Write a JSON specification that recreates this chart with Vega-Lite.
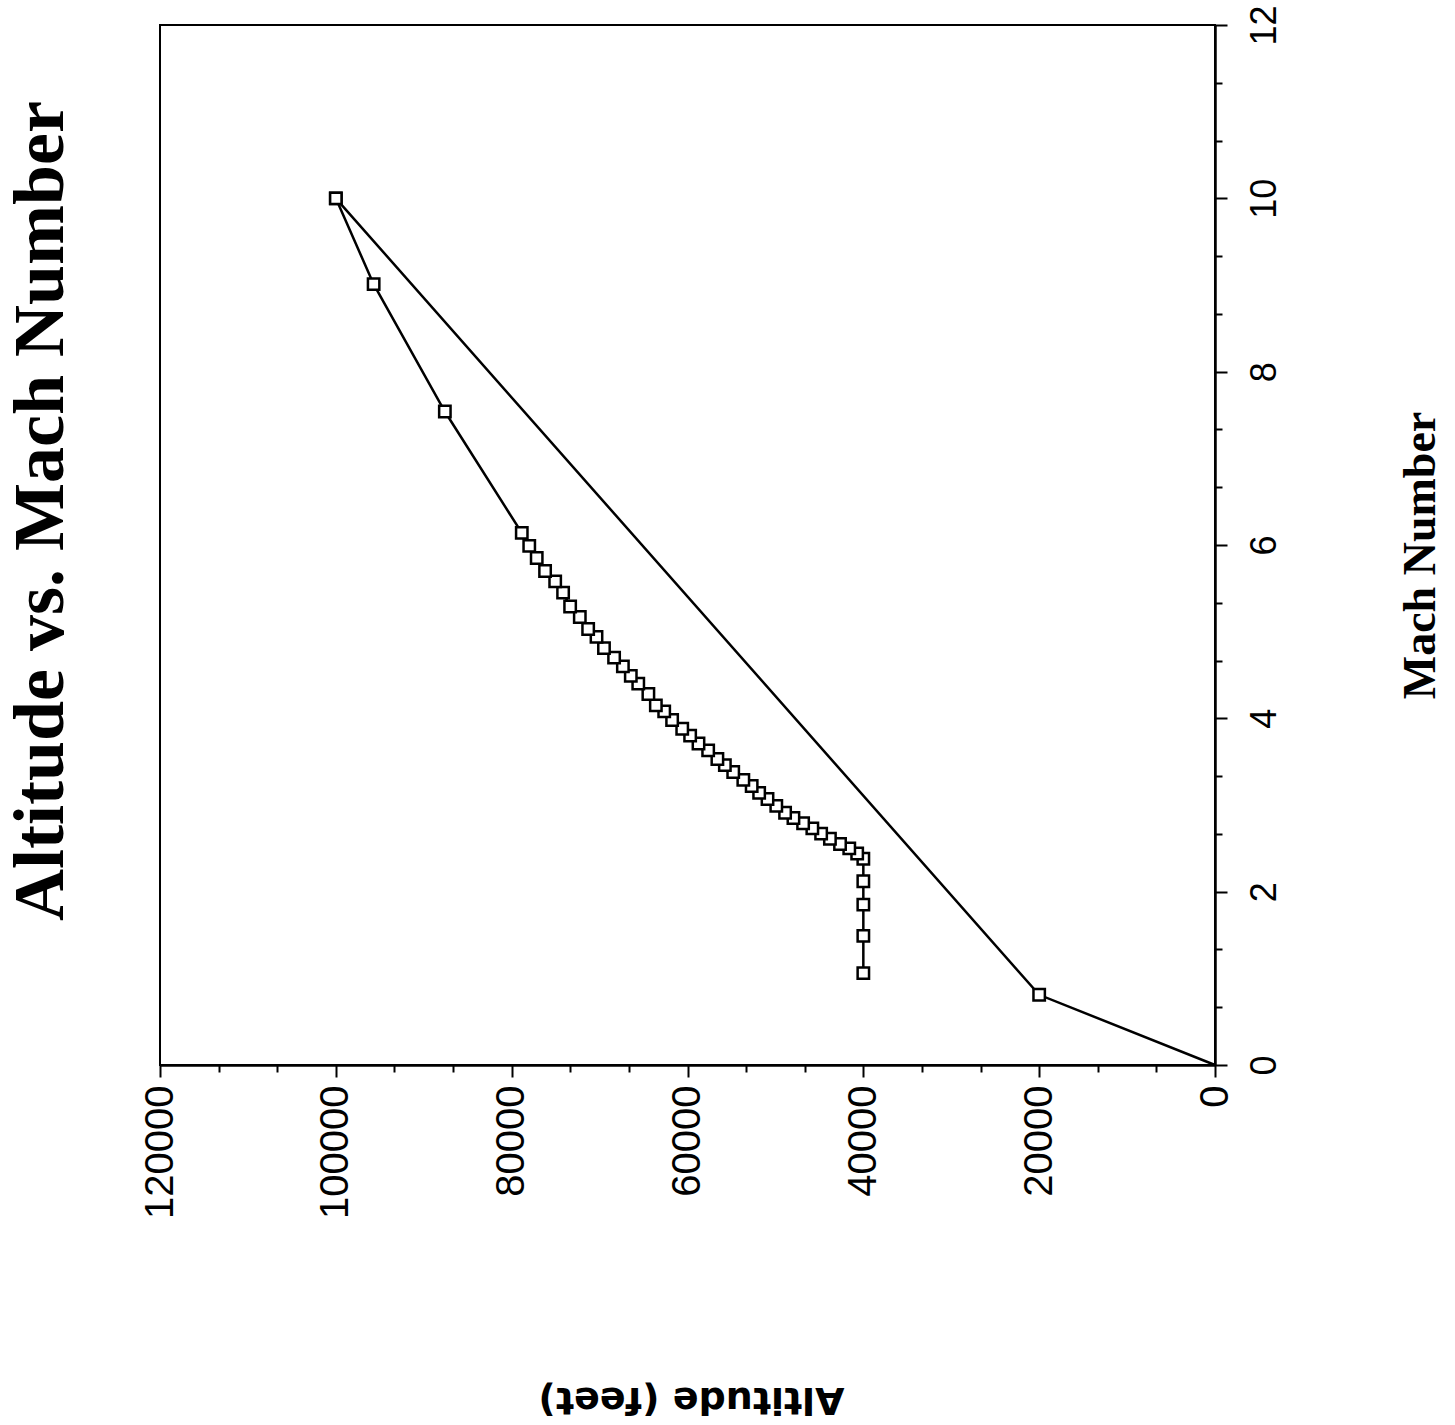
{
  "$schema": "https://vega.github.io/schema/vega-lite/v6.json",
  "width": 1055,
  "height": 1040,
  "autosize": {"type": "none"},
  "padding": {"left": 160, "top": 25, "right": 240, "bottom": 360},
  "background": "white",
  "title": {"text": "Altitude vs. Mach Number", "orient": "left", "anchor": "middle", "font": "Liberation Serif", "fontSize": 72, "fontWeight": "bold", "color": "black", "offset": 62, "dx": 34},
  "config": {"view": {"stroke": "black", "strokeWidth": 2}},
  "data": {"values": [
    {"s": "A", "i": 0, "mach": 0, "alt": 0},
    {"s": "A", "i": 1, "mach": 0.81, "alt": 20000},
    {"s": "A", "i": 2, "mach": 10, "alt": 100000},
    {"s": "B", "i": 0, "mach": 1.06, "alt": 40000},
    {"s": "B", "i": 1, "mach": 1.49, "alt": 40000},
    {"s": "B", "i": 2, "mach": 1.85, "alt": 40000},
    {"s": "B", "i": 3, "mach": 2.12, "alt": 40000},
    {"s": "B", "i": 4, "mach": 2.38, "alt": 40000},
    {"s": "B", "i": 5, "mach": 2.44, "alt": 40700},
    {"s": "B", "i": 6, "mach": 2.50, "alt": 41600},
    {"s": "B", "i": 7, "mach": 2.55, "alt": 42650},
    {"s": "B", "i": 8, "mach": 2.61, "alt": 43800},
    {"s": "B", "i": 9, "mach": 2.67, "alt": 44800},
    {"s": "B", "i": 10, "mach": 2.73, "alt": 45800},
    {"s": "B", "i": 11, "mach": 2.79, "alt": 46850},
    {"s": "B", "i": 12, "mach": 2.85, "alt": 47950},
    {"s": "B", "i": 13, "mach": 2.91, "alt": 48900},
    {"s": "B", "i": 14, "mach": 2.99, "alt": 49900},
    {"s": "B", "i": 15, "mach": 3.07, "alt": 50900},
    {"s": "B", "i": 16, "mach": 3.14, "alt": 51850},
    {"s": "B", "i": 17, "mach": 3.22, "alt": 52700},
    {"s": "B", "i": 18, "mach": 3.29, "alt": 53650},
    {"s": "B", "i": 19, "mach": 3.38, "alt": 54800},
    {"s": "B", "i": 20, "mach": 3.46, "alt": 55750},
    {"s": "B", "i": 21, "mach": 3.53, "alt": 56600},
    {"s": "B", "i": 22, "mach": 3.63, "alt": 57650},
    {"s": "B", "i": 23, "mach": 3.71, "alt": 58750},
    {"s": "B", "i": 24, "mach": 3.80, "alt": 59700},
    {"s": "B", "i": 25, "mach": 3.88, "alt": 60600},
    {"s": "B", "i": 26, "mach": 3.98, "alt": 61750},
    {"s": "B", "i": 27, "mach": 4.08, "alt": 62650},
    {"s": "B", "i": 28, "mach": 4.15, "alt": 63600},
    {"s": "B", "i": 29, "mach": 4.28, "alt": 64450},
    {"s": "B", "i": 30, "mach": 4.40, "alt": 65600},
    {"s": "B", "i": 31, "mach": 4.49, "alt": 66450},
    {"s": "B", "i": 32, "mach": 4.60, "alt": 67350},
    {"s": "B", "i": 33, "mach": 4.70, "alt": 68350},
    {"s": "B", "i": 34, "mach": 4.81, "alt": 69500},
    {"s": "B", "i": 35, "mach": 4.94, "alt": 70350},
    {"s": "B", "i": 36, "mach": 5.03, "alt": 71300},
    {"s": "B", "i": 37, "mach": 5.17, "alt": 72250},
    {"s": "B", "i": 38, "mach": 5.29, "alt": 73350},
    {"s": "B", "i": 39, "mach": 5.45, "alt": 74150},
    {"s": "B", "i": 40, "mach": 5.58, "alt": 75050},
    {"s": "B", "i": 41, "mach": 5.70, "alt": 76200},
    {"s": "B", "i": 42, "mach": 5.85, "alt": 77150},
    {"s": "B", "i": 43, "mach": 5.99, "alt": 78000},
    {"s": "B", "i": 44, "mach": 6.14, "alt": 78850},
    {"s": "B", "i": 45, "mach": 7.54, "alt": 87600},
    {"s": "B", "i": 46, "mach": 9.01, "alt": 95700},
    {"s": "B", "i": 47, "mach": 10, "alt": 100000}
  ]},
  "encoding": {
    "x": {
      "field": "alt", "type": "quantitative",
      "scale": {"domain": [0, 120000], "reverse": true, "nice": false, "zero": true},
      "axis": {
        "title": "Altitude (feet)",
        "values": [0, 6666.667, 13333.333, 20000, 26666.667, 33333.333, 40000, 46666.667, 53333.333, 60000, 66666.667, 73333.333, 80000, 86666.667, 93333.333, 100000, 106666.667, 113333.333, 120000],
        "tickCount": 40,
        "format": "d",
        "labelExpr": "abs(datum.value/20000 - round(datum.value/20000)) < 0.001 ? datum.label : ''",
        "labelAngle": 270, "labelAlign": "right", "labelBaseline": "middle",
        "labelFont": "Liberation Sans", "labelFontSize": 40, "labelColor": "black",
        "labelPadding": 8, "labelFlush": false, "labelOverlap": false, "labelBound": false,
        "tickSize": {"condition": {"test": "abs(datum.value/20000 - round(datum.value/20000)) < 0.001", "value": 12}, "value": 7},
        "tickColor": "black", "tickWidth": 2, "domainColor": "black", "domainWidth": 2.5, "grid": false,
        "titleFont": "DejaVu Sans", "titleFontWeight": "bold", "titleFontSize": 38, "titleColor": "black",
        "titleAngle": 180, "titleX": 531, "titleY": 333, "titleAlign": "center", "titleBaseline": "middle"
      }
    },
    "y": {
      "field": "mach", "type": "quantitative",
      "scale": {"domain": [0, 12], "nice": false},
      "axis": {
        "orient": "right",
        "title": "Mach Number",
        "values": [0, 0.6667, 1.3333, 2, 2.6667, 3.3333, 4, 4.6667, 5.3333, 6, 6.6667, 7.3333, 8, 8.6667, 9.3333, 10, 10.6667, 11.3333, 12],
        "tickCount": 40,
        "tickMinStep": 0.1,
        "labelExpr": "abs(datum.value/2 - round(datum.value/2)) < 0.001 ? format(datum.value, 'd') : ''",
        "labelAngle": 270, "labelAlign": "center", "labelBaseline": "top",
        "labelFont": "Liberation Sans", "labelFontSize": 36, "labelColor": "black",
        "labelPadding": 20, "labelFlush": false, "labelOverlap": false, "labelBound": false,
        "tickSize": {"condition": {"test": "abs(datum.value/2 - round(datum.value/2)) < 0.001", "value": 12}, "value": 7},
        "tickColor": "black", "tickWidth": 2, "domainColor": "black", "domainWidth": 2.5, "grid": false,
        "titleFont": "Liberation Serif", "titleFontWeight": "bold", "titleFontSize": 46, "titleColor": "black",
        "titleAngle": 270, "titleX": 205, "titleY": 530, "titleAlign": "center", "titleBaseline": "middle"
      }
    },
    "order": {"field": "i", "type": "quantitative"}
  },
  "layer": [
    {"mark": {"type": "line", "color": "black", "strokeWidth": 2.5}, "encoding": {"detail": {"field": "s", "type": "nominal"}}},
    {"transform": [{"filter": "datum.mach > 0"}], "mark": {"type": "point", "shape": "square", "filled": true, "fill": "white", "stroke": "black", "strokeWidth": 2.5, "size": 130, "opacity": 1}}
  ]
}
